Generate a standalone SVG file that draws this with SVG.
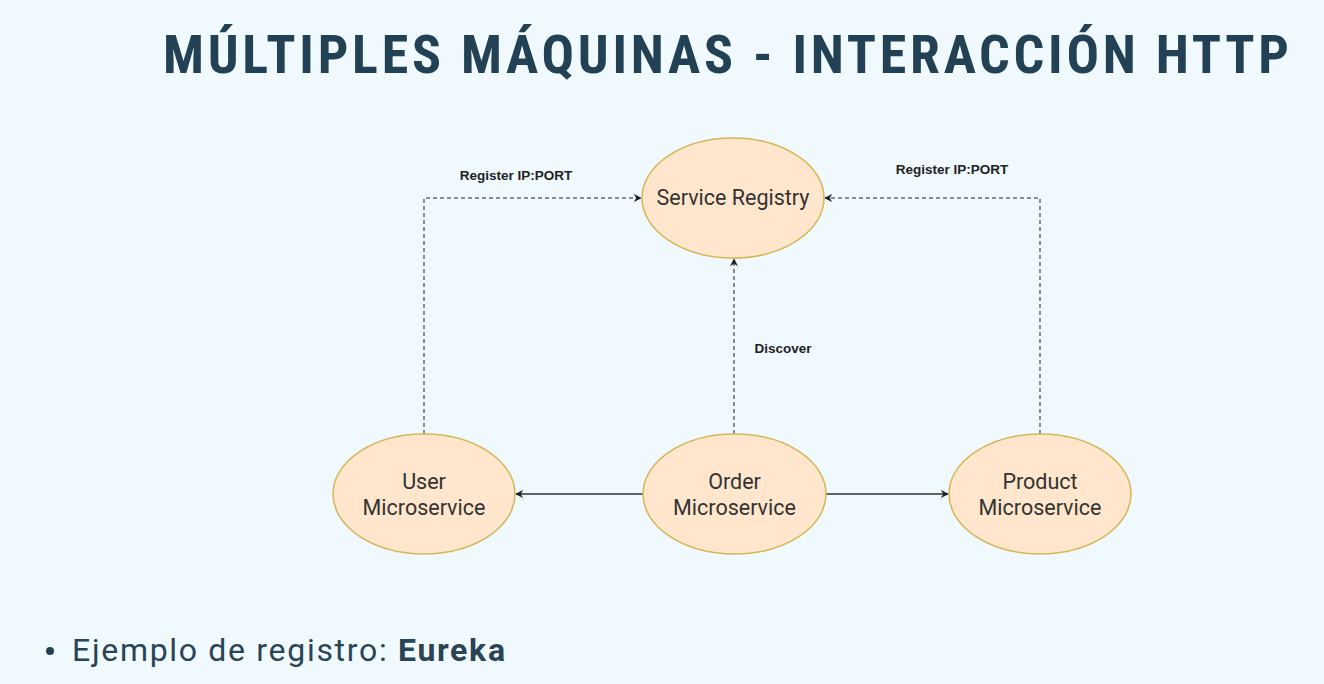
<svg xmlns="http://www.w3.org/2000/svg" width="1324" height="684" viewBox="0 0 1324 684">
<defs>
<style>
.node ellipse{fill:#ffe6cc;stroke:#d6b656;stroke-width:1.5}
.node text{font-family:Roboto,"Liberation Sans",sans-serif;font-size:21.5px;fill:#333;text-anchor:middle}
.dash{fill:none;stroke:#666;stroke-width:1.5;stroke-dasharray:4 3}
.solid{fill:none;stroke:#333;stroke-width:1.5}
.lbl{font-family:"Liberation Sans",Arial,sans-serif;font-size:13.5px;font-weight:bold;fill:#222;text-anchor:middle}
</style>
<marker id="arr" viewBox="0 0 10 10" refX="9" refY="5" markerWidth="8" markerHeight="8" markerUnits="userSpaceOnUse" orient="auto">
<path d="M0,0 L10,5 L0,10 L3,5 Z" fill="#222"/>
</marker>
</defs>
<rect width="1324" height="684" fill="#f0f9fd"/>
<text x="163" y="73" font-family="'Roboto Condensed','DejaVu Sans Condensed','Liberation Sans Narrow',Roboto,sans-serif" font-weight="bold" font-size="54" fill="#234155" textLength="1126" lengthAdjust="spacing">MÚLTIPLES MÁQUINAS - INTERACCIÓN HTTP</text>
<g id="connectors">
<path class="dash" d="M424,434 V198 H641" marker-end="url(#arr)"/>
<path class="dash" d="M1040,434 V198 H825" marker-end="url(#arr)"/>
<path class="dash" d="M734,434 V259" marker-end="url(#arr)"/>
<path class="solid" d="M643,494 H516" marker-end="url(#arr)"/>
<path class="solid" d="M826,494 H948" marker-end="url(#arr)"/>
<text class="lbl" x="516" y="180">Register IP:PORT</text>
<text class="lbl" x="952" y="174">Register IP:PORT</text>
<text class="lbl" x="783" y="353">Discover</text>
</g>
<g id="service-registry" class="node">
<ellipse cx="733" cy="198" rx="91" ry="60"/>
<text x="733" y="205">Service Registry</text>
</g>
<g id="user-microservice" class="node">
<ellipse cx="424" cy="494" rx="91" ry="60"/>
<text x="424" y="489">User</text>
<text x="424" y="515">Microservice</text>
</g>
<g id="order-microservice" class="node">
<ellipse cx="734.5" cy="494" rx="91.5" ry="60"/>
<text x="734.5" y="489">Order</text>
<text x="734.5" y="515">Microservice</text>
</g>
<g id="product-microservice" class="node">
<ellipse cx="1040" cy="494" rx="91" ry="60"/>
<text x="1040" y="489">Product</text>
<text x="1040" y="515">Microservice</text>
</g>
<circle cx="50" cy="651" r="4" fill="#234155"/>
<text x="72" y="661" font-family="Roboto,'Liberation Sans',sans-serif" font-size="32" fill="#2a4456" textLength="433" lengthAdjust="spacing">Ejemplo de registro: <tspan font-weight="bold">Eureka</tspan></text>
</svg>
